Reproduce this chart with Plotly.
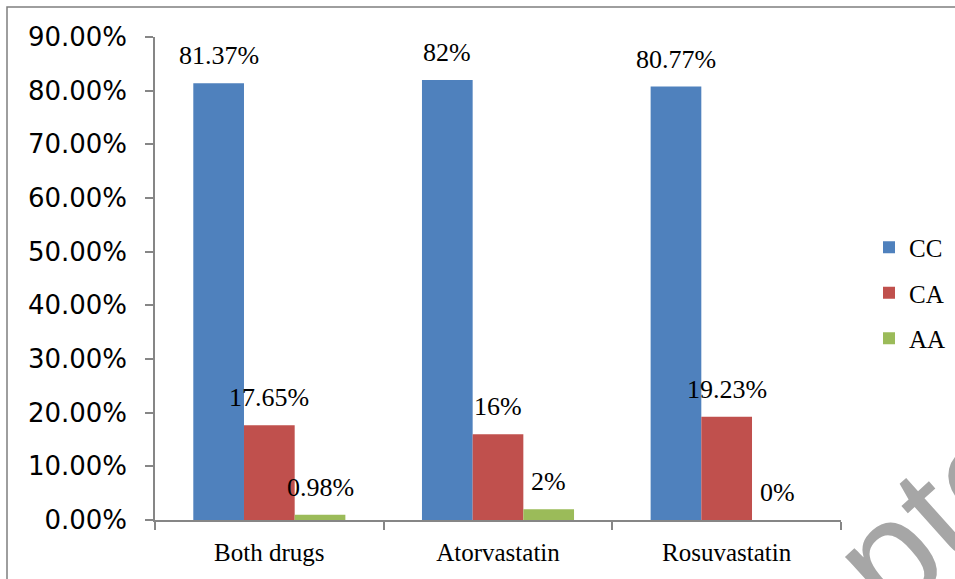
import plotly.graph_objects as go

categories = ["Both drugs", "Atorvastatin", "Rosuvastatin"]
series_names = ["CC", "CA", "AA"]
cc_values = [0.8137, 0.82, 0.8077]
ca_values = [0.1765, 0.16, 0.1923]
aa_values = [0.0098, 0.02, 0.0]
cc_labels = ["81.37%", "82%", "80.77%"]
ca_labels = ["17.65%", "16%", "19.23%"]
aa_labels = ["0.98%", "2%", "0%"]
y_tick_values = [0, 0.1, 0.2, 0.3, 0.4, 0.5, 0.6, 0.7, 0.8, 0.9]

colors = ["#4F81BD", "#C0504D", "#9BBB59"]
W, H = 955, 579
ML, MR, MT, MB = 155, 114, 37, 59
BARGAP = 0.335
plot_w = W - ML - MR
plot_h = H - MT - MB
bar_px = plot_w / len(categories) * (1 - BARGAP) / 3

serif = "Liberation Serif, Times New Roman, serif"
sans = "DejaVu Sans, Verdana, sans-serif"
axis_grey = "#868686"


def px_x(p):
    return (p - ML) / plot_w


def px_y(p):
    return (H - MB - p) / plot_h


fig = go.Figure()
all_vals = [cc_values, ca_values, aa_values]
all_labels = [cc_labels, ca_labels, aa_labels]
for i, (name, vals) in enumerate(zip(series_names, all_vals)):
    fig.add_trace(go.Bar(
        x=categories, y=vals, name=name,
        marker=dict(color=colors[i], line=dict(width=0)),
        legendgroup=name, hoverinfo="skip",
    ))

annotations = []
for i, (vals, labs) in enumerate(zip(all_vals, all_labels)):
    for cat, v, lab in zip(categories, vals, labs):
        annotations.append(dict(
            x=cat, y=v, xref="x", yref="y", text=lab, showarrow=False,
            xanchor="center", yanchor="bottom",
            xshift=(i - 1) * bar_px, yshift=11,
            font=dict(family=serif, size=26, color="#000000"),
        ))

# watermark fragment
annotations.append(dict(
    x=px_x(840), y=px_y(598),
    xref="paper", yref="paper", text="Accepted", showarrow=False,
    xanchor="center", yanchor="middle", textangle=-42,
    font=dict(family="Liberation Sans, Arial, sans-serif", size=150, color="#a6a6a6"),
))

fig.update_layout(
    width=W, height=H,
    margin=dict(l=ML, r=MR, t=MT, b=MB),
    paper_bgcolor="white", plot_bgcolor="white",
    barmode="group", bargap=BARGAP, bargroupgap=0,
    showlegend=True,
    legend=dict(
        xref="container", yref="container",
        x=869 / W, y=(H - 293) / H,
        xanchor="left", yanchor="middle",
        font=dict(family=serif, size=25, color="#000000"),
        traceorder="grouped", tracegroupgap=10,
        bgcolor="rgba(0,0,0,0)",
    ),
    xaxis=dict(
        type="category", showline=True, linecolor=axis_grey, linewidth=1.5,
        ticks="outside", tickson="boundaries", ticklen=8, tickcolor=axis_grey,
        tickwidth=1.5, showgrid=False, zeroline=False, ticklabelstandoff=9,
        tickfont=dict(family=serif, size=25, color="#000000"),
    ),
    yaxis=dict(
        range=[0, 0.9], tickvals=y_tick_values, tickformat=".2%",
        showline=True, linecolor=axis_grey, linewidth=1.5,
        ticks="outside", ticklen=8, tickcolor=axis_grey, tickwidth=1.5,
        showgrid=False, zeroline=False, ticklabelstandoff=13,
        tickfont=dict(family=sans, size=26, color="#000000"),
    ),
    annotations=annotations,
    shapes=[dict(
        type="rect", xref="paper", yref="paper",
        x0=px_x(7), x1=px_x(W + 20),
        y0=px_y(H + 20), y1=px_y(7),
        line=dict(color="#7f7f7f", width=1.5), fillcolor="rgba(0,0,0,0)",
        layer="below",
    )],
)

fig.write_html("out.html", config={"displayModeBar": False},
               post_script="document.body.style.margin='0px';")
